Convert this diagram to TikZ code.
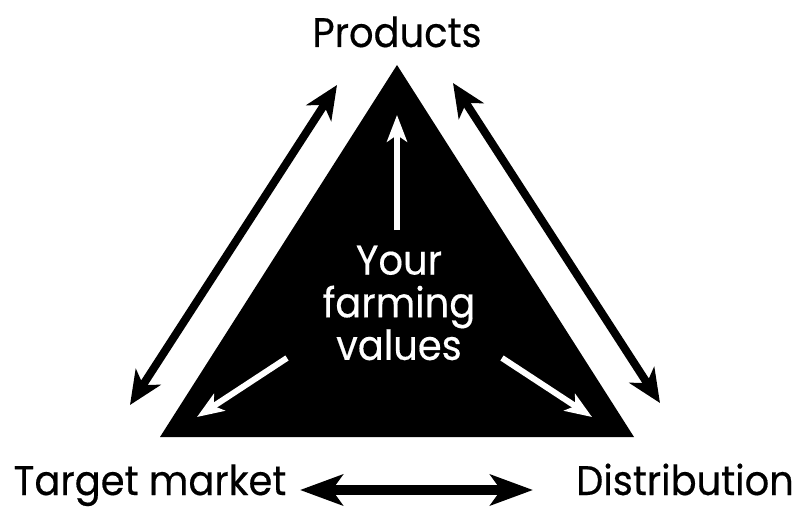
\documentclass[tikz,border=0pt]{standalone}
\usepackage{fontspec}
\setmainfont{Poppins}[FakeStretch=0.93, FakeBold=0.4]
\usetikzlibrary{arrows.meta}
\begin{document}
\begin{tikzpicture}[x=0.75pt, y=-0.75pt,
    labelStyle/.style={inner sep=0pt, font=\fontsize{31}{32}\selectfont},
    bigArrow/.style={line width=6pt, {Stealth[length=25pt, width=22pt, inset=7pt]}-{Stealth[length=25pt, width=22pt, inset=7pt]}},
    wideArrow/.style={line width=7.5pt, {Stealth[length=32pt, width=23pt, inset=8pt]}-{Stealth[length=32pt, width=23pt, inset=8pt]}},
    innerArrow/.style={white, line width=4.5pt, -{Stealth[length=20pt, width=15pt, inset=5pt]}}]
    \useasboundingbox (0,0) rectangle (797,510);

    \coordinate (top) at (397, 65);
    \coordinate (left) at (160, 437);
    \coordinate (right) at (634, 437);
    \fill (top) -- (left) -- (right) -- cycle;

    \node[labelStyle, anchor=base](products) at (397, 47) {Products};
    \node[labelStyle, anchor=base](target) at (150, 495) {Target market};
    \node[labelStyle, anchor=base](distribution) at (685, 495) {Distribution};
    \node[labelStyle, text=white, align=center](values) at (399, 303) {Your\\farming\\values};

    \coordinate (a1) at (130, 405);
    \coordinate (a2) at (337, 85);
    \coordinate (b1) at (453, 83);
    \coordinate (b2) at (660, 403);
    \coordinate (c1) at (300, 490);
    \coordinate (c2) at (533, 490);
    \draw[bigArrow] (a1) -- (a2);
    \draw[bigArrow] (b1) -- (b2);
    \draw[wideArrow] (c1) -- (c2);

    \coordinate (up1) at (397, 230);
    \coordinate (up2) at (397, 115);
    \coordinate (dl1) at (287, 358);
    \coordinate (dl2) at (197, 417);
    \coordinate (dr1) at (502, 358);
    \coordinate (dr2) at (592, 417);
    \draw[innerArrow] (up1) -- (up2);
    \draw[innerArrow] (dl1) -- (dl2);
    \draw[innerArrow] (dr1) -- (dr2);
\end{tikzpicture}
\end{document}
